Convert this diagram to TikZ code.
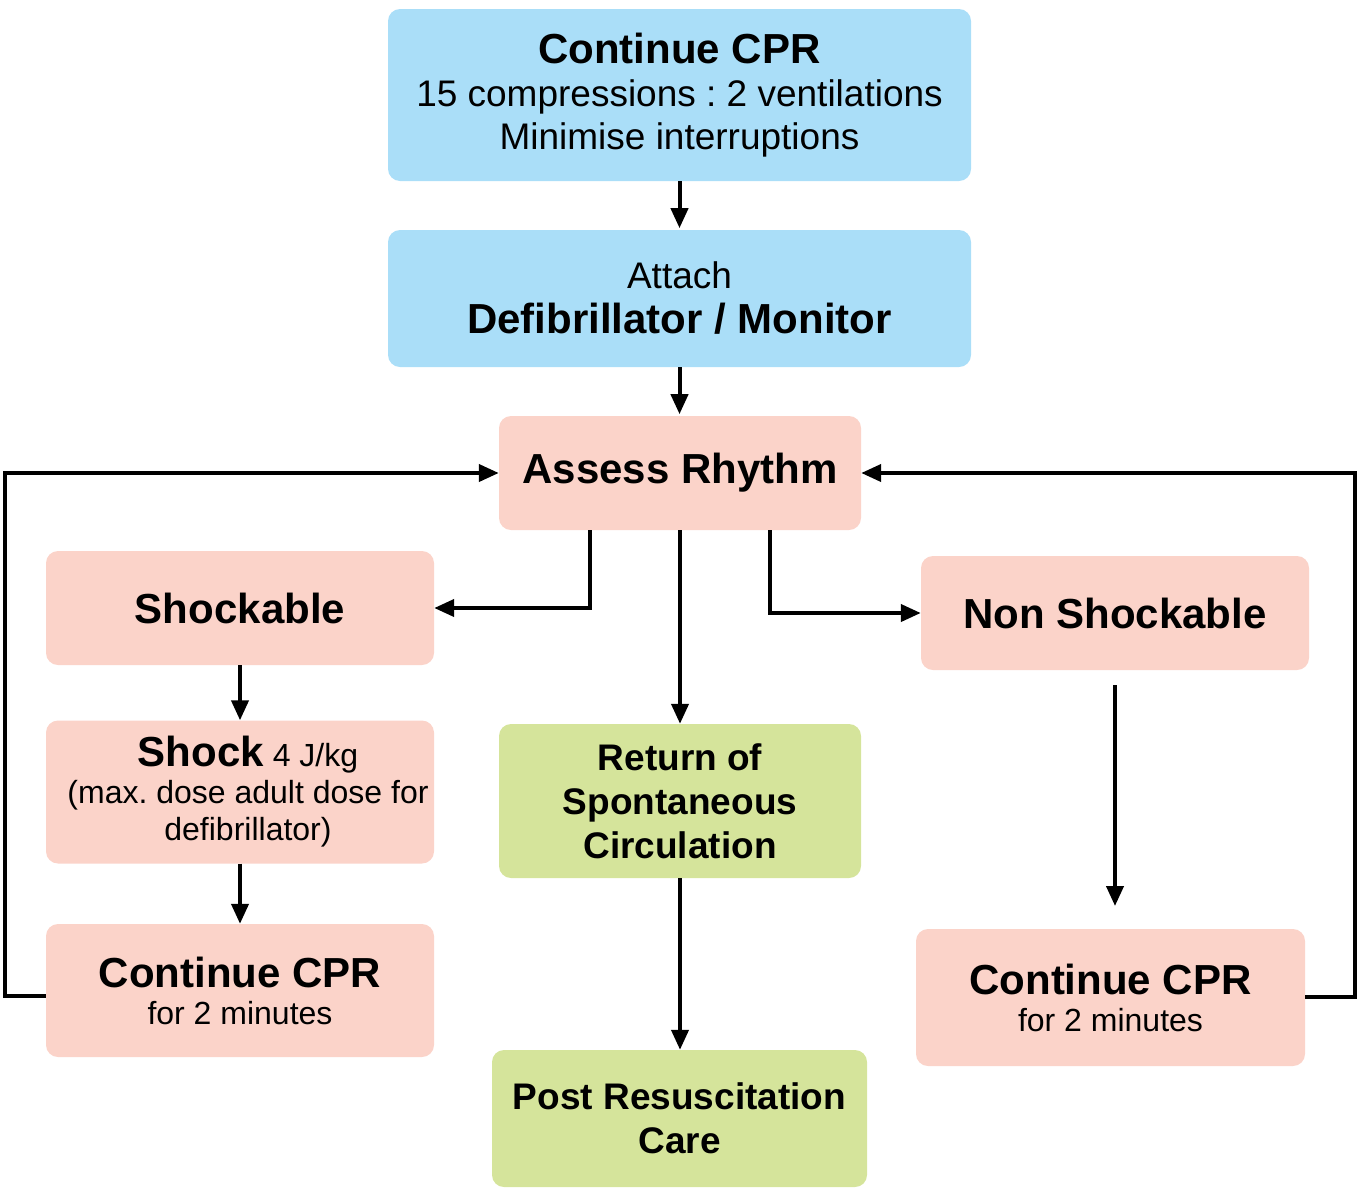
\documentclass[tikz,border=0pt]{standalone}
\usepackage{fontspec}
\setmainfont{Liberation Sans}
\usetikzlibrary{arrows.meta}
\frenchspacing
\definecolor{cblue}{RGB}{170,222,248}
\definecolor{cpink}{RGB}{251,211,201}
\definecolor{cgreen}{RGB}{213,228,155}
\newcommand{\bigb}{\bfseries\fontsize{42}{46}\selectfont}
\newcommand{\medr}{\fontsize{37}{44}\selectfont}
\newcommand{\medb}{\bfseries\fontsize{37}{44}\selectfont}
\newcommand{\smr}{\fontsize{32}{38}\selectfont}
\tikzset{
  box/.style={rounded corners=12pt, align=center, inner sep=0pt, text=black},
  bluebox/.style={box, fill=cblue},
  pinkbox/.style={box, fill=cpink},
  greenbox/.style={box, fill=cgreen},
  conn/.style={line width=4pt, -{Triangle[length=20pt,width=17pt]}}
}
\begin{document}
\begin{tikzpicture}[x=1pt,y=-1pt]
\frenchspacing
\useasboundingbox (0,0) rectangle (1359,1194);
\node[bluebox, minimum width=583pt, minimum height=172pt, font=\fontsize{37}{43}\selectfont] (top) at (679.5,95)
  {{\bigb Continue CPR}\\{\medr 15 compressions : 2 ventilations}\\{\medr Minimise interruptions}};
\node[bluebox, minimum width=583pt, minimum height=137pt, font=\fontsize{37}{45}\selectfont] (att) at (679.5,298.5)
  {{\medr Attach}\\{\bigb Defibrillator / Monitor}};
\node[pinkbox, minimum width=362pt, minimum height=114pt] (ass) at (680,473)
  {\bigb Assess Rhythm};
\node[pinkbox, minimum width=388pt, minimum height=114pt] (shk) at (240,608)
  {\bigb Shockable};
\node[pinkbox, minimum width=388pt, minimum height=143pt, font=\fontsize{32}{37}\selectfont] (sho) at (240,792)
  {\hspace*{16pt}{\bigb Shock}{\smr\ 4 J/kg}\\\hspace*{16pt}{\smr (max. dose adult dose for}\\\hspace*{16pt}{\smr defibrillator)}};
\node[pinkbox, minimum width=388pt, minimum height=133pt, font=\fontsize{32}{37}\selectfont] (cpl) at (240,990.5)
  {{\bigb Continue CPR}\\{\smr for 2 minutes}};
\node[greenbox, minimum width=362pt, minimum height=154pt, font=\fontsize{37}{44}\selectfont] (rosc) at (680,801)
  {{\medb Return of}\\{\medb Spontaneous}\\{\medb Circulation}};
\node[greenbox, minimum width=375pt, minimum height=137pt, font=\fontsize{37}{44}\selectfont] (post) at (679.5,1118.5)
  {{\medb Post Resuscitation}\\{\medb Care}};
\node[pinkbox, minimum width=388pt, minimum height=114pt] (non) at (1115,613)
  {\bigb Non Shockable};
\node[pinkbox, minimum width=389pt, minimum height=137pt, font=\fontsize{32}{37}\selectfont] (cpr) at (1110.5,997.5)
  {{\bigb Continue CPR}\\{\smr for 2 minutes}};
\coordinate (ln) at (5,473);
\coordinate (rn) at (1355,473);
\coordinate (nsa) at (1115,685);
\coordinate (nsb) at (1115,906);
\draw[conn] (top.south) -- ++(0,47);
\draw[conn] (att.south) -- ++(0,47);
\draw[conn] (ass.south -| 590,0) |- (shk.east);
\draw[conn] (ass.south) -- (rosc.north);
\draw[conn] (ass.south -| 770,0) |- (non.west);
\draw[conn] (shk.south) -- (sho.north);
\draw[conn] (sho.south) -- (cpl.north);
\draw[conn] (rosc.south) -- (rosc.south |- post.north);
\draw[conn] (nsa) -- (nsb);
\draw[conn] (cpl.west |- 0,996) -| (ln) -- (ass.west);
\draw[conn] (cpr.east |- 0,997) -| (rn) -- (ass.east);
\end{tikzpicture}
\end{document}
